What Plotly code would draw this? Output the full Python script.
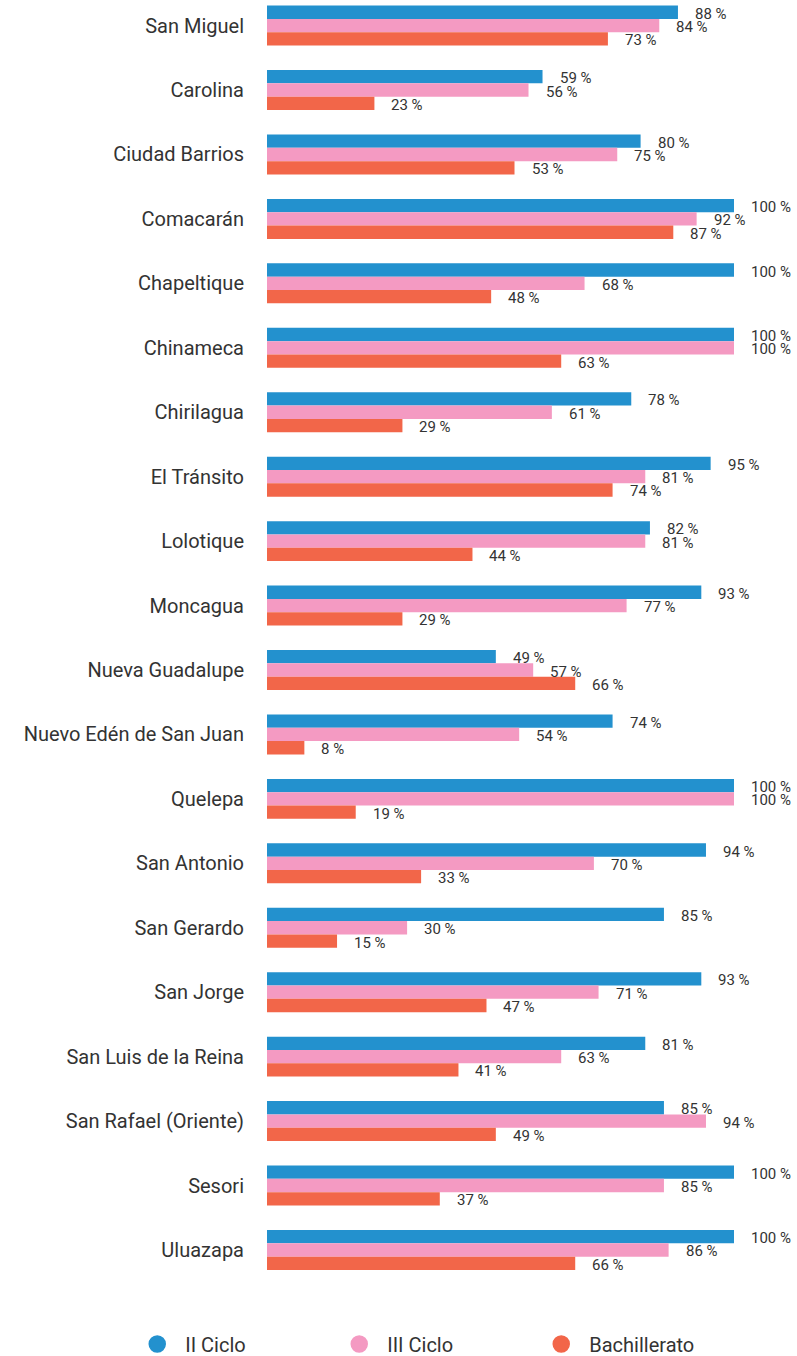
import plotly.graph_objects as go

# Municipality names (top to bottom)
municipios = [
    "San Miguel", "Carolina", "Ciudad Barrios", "Comacarán", "Chapeltique",
    "Chinameca", "Chirilagua", "El Tránsito", "Lolotique", "Moncagua",
    "Nueva Guadalupe", "Nuevo Edén de San Juan", "Quelepa", "San Antonio",
    "San Gerardo", "San Jorge", "San Luis de la Reina", "San Rafael (Oriente)",
    "Sesori", "Uluazapa",
]

# Coverage rate (%) by education level
ii_ciclo = [88, 59, 80, 100, 100, 100, 78, 95, 82, 93, 49, 74, 100, 94, 85, 93, 81, 85, 100, 100]
iii_ciclo = [84, 56, 75, 92, 68, 100, 61, 81, 81, 77, 57, 54, 100, 70, 30, 71, 63, 94, 85, 86]
bachillerato = [73, 23, 53, 87, 48, 63, 29, 74, 44, 29, 66, 8, 19, 33, 15, 47, 41, 49, 37, 66]

series = [
    ("II Ciclo", ii_ciclo, "#2391CE"),
    ("III Ciclo", iii_ciclo, "#F49AC2"),
    ("Bachillerato", bachillerato, "#F26649"),
]

FONT = "Roboto"
TEXT = "#333333"
BARGAP = 0.38
n_series = len(series)
bar_w = (1 - BARGAP) / n_series

fig = go.Figure()
annotations = []
for k, (name, vals, color) in enumerate(series):
    fig.add_trace(go.Bar(
        y=municipios, x=vals, orientation="h", name=name,
        marker=dict(color=color, line=dict(width=0)),
        showlegend=False, hoverinfo="x+y",
    ))
    # legend entry drawn as a circle
    fig.add_trace(go.Scatter(
        x=[None], y=[None], mode="markers", name=name,
        marker=dict(color=color, size=16, symbol="circle",
                    line=dict(color=color, width=1.5)),
        showlegend=True,
    ))
    offset = -(1 - BARGAP) / 2 + bar_w * (k + 0.5)
    for i, v in enumerate(vals):
        annotations.append(dict(
            x=v, y=i + offset, xref="x", yref="y",
            text=f"{v} %", showarrow=False,
            xanchor="left", yanchor="middle", xshift=15, yshift=-1.5,
            font=dict(family=FONT, size=15, color=TEXT),
        ))

fig.update_layout(
    width=797, height=1356,
    margin=dict(l=267, r=62.5, t=0, b=74, autoexpand=False),
    paper_bgcolor="white", plot_bgcolor="white",
    barmode="group", bargap=BARGAP, bargroupgap=0,
    font=dict(family=FONT, color=TEXT),
    annotations=annotations,
    legend=dict(
        orientation="h", xref="paper", yref="paper",
        x=-0.295, xanchor="left", y=-0.0484, yanchor="middle",
        font=dict(family=FONT, size=20, color=TEXT),
        itemwidth=46, entrywidth=141, entrywidthmode="pixels",
        traceorder="normal",
    ),
)
fig.update_xaxes(range=[0, 100], visible=False, showgrid=False, zeroline=False, fixedrange=True)
fig.update_yaxes(
    type="category", categoryorder="array", categoryarray=municipios,
    range=[19.497, -0.397],
    showgrid=False, zeroline=False, showline=False, ticks="",
    ticklabelstandoff=22,
    tickfont=dict(family=FONT, size=20, color=TEXT),
)

fig.write_html("out.html")
